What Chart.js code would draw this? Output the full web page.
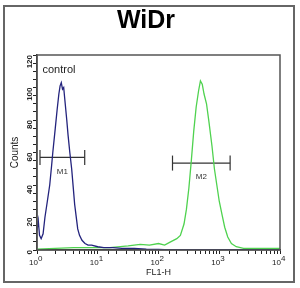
<!DOCTYPE html>
<html><head><meta charset="utf-8">
<script src="https://cdn.jsdelivr.net/npm/chart.js@4"></script>
<style>html,body{margin:0;padding:0;background:#fff}canvas{display:block}</style>
</head><body>
<canvas id="c" width="300" height="288"></canvas>
<script>
const chartTitle = "WiDr";
const xTitle = "FL1-H";
const yTitle = "Counts";
const controlLabel = "control";
// FL1-H values (log axis) and counts for control (blue)
const controlX = [1.0,1.05,1.1,1.17,1.26,1.35,1.48,1.62,1.74,1.82,2.0,2.14,2.29,2.4,2.51,2.63,2.75,2.88,3.09,3.24,3.47,3.72,3.98,4.17,4.47,4.68,5.01,5.5,6.17,6.92,7.94,10,12.6,17.8,25,40,63,100,158,10000];
const controlY = [12,18,9,7,10,20,30,40,52,60,75,86,96,101,103,99,100,92,80,71,60,50,37,28,19,13,9,6,4,3,3,2,1.5,1.5,1,1,0.5,0.3,0,0];
// sample (green)
const sampleX = [1,2,4,7.9,15.8,31.6,50,71,100,126,158,200,229,263,288,316,347,380,417,457,490,525,562,617,676,759,832,912,1000,1122,1230,1380,1585,1905,2512,5012,10000];
const sampleY = [0.5,1,1.5,1.5,1.5,2.5,3.5,3,4,3,5,7,9,16,25,38,55,73,88,98,104,102,96,90,79,64,50,40,30,21,14,8,4,2,1,1,1];
// gates
const gateNames = ["M1","M2"];
const gateStart = [1.12,170];
const gateEnd = [6.1,1510];
const gateLevel = [57,53.5];
const xMajorTicks = [1,10,100,1000,10000];
const yMajorStep = 20;

function pts(xs, ys){ return xs.map((x,i)=>({x:x,y:ys[i]})); }

const datasets = [
  {data: pts(controlX, controlY), borderColor:'#23237d', borderWidth:1.3, pointRadius:0, tension:0, fill:false},
  {data: pts(sampleX, sampleY), borderColor:'#4fd24f', borderWidth:1.3, pointRadius:0, tension:0, fill:false}
];
gateNames.forEach((n,i)=>{
  datasets.push({data:[{x:gateStart[i],y:gateLevel[i]},{x:gateEnd[i],y:gateLevel[i]}],
    borderColor:'#333', borderWidth:1.2, pointStyle:'line', rotation:90, pointRadius:7.5,
    pointBorderColor:'#333', pointBorderWidth:1.2, pointHoverRadius:7.5});
});

const deco = {
  id:'deco',
  beforeDraw(ch){
    const c=ch.ctx; c.save(); c.fillStyle='#fff'; c.fillRect(0,0,ch.width,ch.height); c.restore();
  },
  afterDraw(ch){
    const c=ch.ctx, a=ch.chartArea, xs=ch.scales.x, ys=ch.scales.y;
    c.save();
    // plot frame
    c.strokeStyle='#555'; c.lineWidth=1.5;
    c.strokeRect(a.left, a.top, a.right-a.left, a.bottom-a.top);
    // outer border
    c.strokeStyle='#666'; c.lineWidth=2;
    c.strokeRect(4, 6, 290, 276);
    // title
    c.fillStyle='#000'; c.font='bold 25px "Liberation Sans", Arial, sans-serif';
    c.textAlign='center'; c.textBaseline='middle';
    c.fillText(chartTitle, 146, 21);
    // x tick labels with superscripts
    c.fillStyle='#222';
    xMajorTicks.forEach((v,i)=>{
      const px = xs.getPixelForValue(v);
      c.font='8px "Liberation Sans", Arial, sans-serif';
      c.textAlign='right'; c.textBaseline='alphabetic';
      c.fillText('10', px+1, 265);
      c.font='8px "Liberation Sans", Arial, sans-serif';
      c.textAlign='left';
      c.fillText(String(Math.round(Math.log10(v))), px+1, 261);
    });
    // gate labels
    c.font='8px "Liberation Sans", Arial, sans-serif'; c.textAlign='center'; c.textBaseline='middle'; c.fillStyle='#333';
    gateNames.forEach((n,i)=>{
      const px = xs.getPixelForValue(Math.sqrt(gateStart[i]*gateEnd[i]));
      const py = ys.getPixelForValue(gateLevel[i]) + 14;
      c.fillText(n, px, py);
    });
    // control label
    c.font='11px "Liberation Sans", Arial, sans-serif'; c.fillStyle='#222';
    c.fillText(controlLabel, xs.getPixelForValue(2.3), ys.getPixelForValue(111));
    c.restore();
  }
};

new Chart(document.getElementById('c'), {
  type:'line',
  data:{datasets},
  options:{
    responsive:false, animation:false, devicePixelRatio:1,
    layout:{padding:{left:0,right:20,top:55,bottom:0}},
    plugins:{legend:{display:false}, tooltip:{enabled:false}, title:{display:false}},
    scales:{
      x:{type:'logarithmic', min:1, max:10000,
        afterFit(s){ s.height = 38; },
        ticks:{autoSkip:false, maxRotation:0, callback:()=>'' , font:{size:8}},
        grid:{drawOnChartArea:false, tickLength:4, color:'#222', tickColor:'#222'},
        border:{color:'#222', width:1.5},
        title:{display:true, text:xTitle, color:'#222', font:{size:9, family:'"Liberation Sans", Arial, sans-serif'}, padding:{top:0,bottom:10}}
      },
      y:{min:0, max:120,
        afterFit(s){ s.width = 37; },
        ticks:{stepSize:5, autoSkip:false, minRotation:90, maxRotation:90, color:'#222',
          font:{size:8, weight:'bold', family:'"Liberation Sans", Arial, sans-serif'},
          callback:(v)=> (v % yMajorStep === 0 ? String(v) : ''), padding:3},
        grid:{drawOnChartArea:false, tickLength:4, tickColor:'#222'},
        border:{color:'#222', width:1.5},
        title:{display:true, text:yTitle, color:'#222', font:{size:10, family:'"Liberation Sans", Arial, sans-serif'}, padding:{top:9,bottom:0}}
      }
    }
  },
  plugins:[deco]
});
</script>
</body></html>
